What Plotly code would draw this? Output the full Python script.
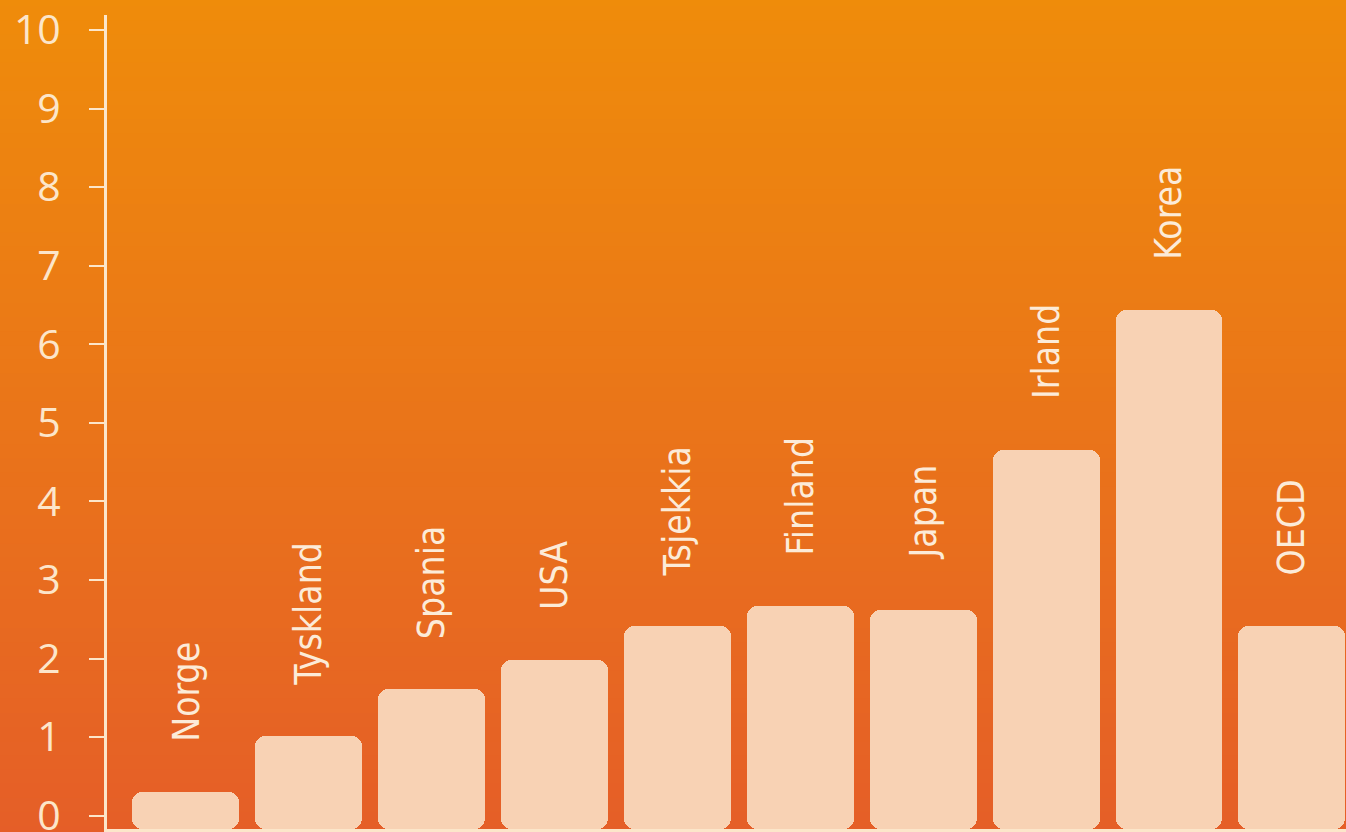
import plotly.graph_objects as go

countries = ["Norge", "Tyskland", "Spania", "USA", "Tsjekkia", "Finland", "Japan", "Irland", "Korea", "OECD"]
values = [0.30, 1.01, 1.61, 1.98, 2.41, 2.67, 2.62, 4.66, 6.44, 2.42]
y_ticks = [0, 1, 2, 3, 4, 5, 6, 7, 8, 9, 10]

W, H = 1346, 832
ML, MR, MT, MB = 107, 0, 15, 3
Y_MIN, Y_MAX = -0.17, 10.19

cream = "#FCE6CA"
bar_col = "#F8D2B4"

fig = go.Figure()
fig.add_trace(go.Bar(
    x=list(range(len(countries))), y=[v - Y_MIN for v in values], base=Y_MIN,
    width=0.87, marker=dict(color=bar_col, line=dict(width=0), cornerradius=10),
    hoverinfo="skip",
))

for i, (c, v) in enumerate(zip(countries, values)):
    fig.add_annotation(x=i, y=v, text=c, textangle=-90, showarrow=False,
                       xanchor="center", yanchor="bottom", yshift=48,
                       font=dict(family="DejaVu Sans Condensed, Roboto, sans-serif", size=37, color="#FCEBD8"))

# vertical gradient background built from bands
top = (239, 140, 10)
bot = (229, 94, 40)
n = 60
pw = W - ML - MR
ph = H - MT - MB
x0 = -ML / pw - 0.01
x1 = 1 + MR / pw + 0.01
y_lo = -MB / ph - 0.01
y_hi = 1 + MT / ph + 0.01
shapes = []
for k in range(n):
    t = k / (n - 1)
    col = tuple(round(top[j] + (bot[j] - top[j]) * t) for j in range(3))
    ya = y_hi - (y_hi - y_lo) * k / n
    yb = y_hi - (y_hi - y_lo) * (k + 1) / n - 0.002
    shapes.append(dict(type="rect", xref="paper", yref="paper", x0=x0, x1=x1, y0=yb, y1=ya,
                       fillcolor="rgb(%d,%d,%d)" % col, line=dict(width=0), layer="below"))

fig.update_layout(
    width=W, height=H, margin=dict(l=ML, r=MR, t=MT, b=MB),
    paper_bgcolor="rgb(234,115,25)", plot_bgcolor="rgba(0,0,0,0)",
    shapes=shapes, showlegend=False, bargap=0,
    xaxis=dict(range=[-0.64, 9.44], showticklabels=False, ticks="", showgrid=False, zeroline=False,
               showline=True, linecolor=cream, linewidth=3, fixedrange=True, automargin=False),
    yaxis=dict(range=[Y_MIN, Y_MAX], tickvals=y_ticks, ticktext=[str(t) for t in y_ticks],
               ticks="outside", ticklen=15, tickwidth=2, tickcolor=cream,
               showline=True, linecolor=cream, linewidth=3, showgrid=False, zeroline=False,
               tickfont=dict(family="Open Sans, sans-serif", size=41, color=cream),
               ticklabelstandoff=20, ticklabeloverflow="allow", fixedrange=True, automargin=False),
)

fig.write_html("out.html", config={"displayModeBar": False},
               post_script="document.body.style.margin='0';document.body.style.overflow='hidden';")
